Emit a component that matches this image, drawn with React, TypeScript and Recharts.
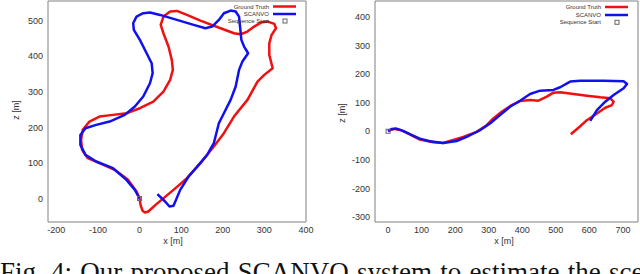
import React from 'react';
import { ComposedChart, Line, Scatter, XAxis, YAxis } from 'recharts';

type Pt = [number, number];

// ---- Left panel (trajectory 1) ----
const leftGroundTruth: Pt[] = [
  [0, 0], [2.4, -17.8], [7.3, -34.6], [12.9, -39.3], [21, -36.5], [41.2, -15], [81.6, 24.3],
  [113.9, 57.1], [146.2, 99.3], [178.5, 146.1], [202.7, 183.5], [226.9, 230.3], [259.3, 277.2],
  [283.5, 328.7], [299.7, 347.4], [319.9, 366.1], [311.8, 403.6], [311.8, 436.3], [317.4, 459.7],
  [327.9, 478.5], [323.9, 490.6], [307.8, 497.2], [291.6, 494.4], [275.4, 483.1], [259.3, 469.1],
  [243.1, 461.6], [226.9, 464.4], [194.7, 478.5], [146.2, 500], [113.9, 515.9], [89.7, 527.2],
  [73.5, 525.3], [57.4, 511.2], [50.9, 487.8], [57.4, 464.4], [69.5, 427], [77.5, 389.5],
  [80, 361.4], [73.5, 333.3], [57.4, 300.6], [33.1, 272.5], [0.8, 253.7], [-31.5, 239.7],
  [-63.8, 235], [-96.1, 230.3], [-120.4, 216.3], [-136.5, 192.9], [-140.5, 164.8], [-138.1, 136.7],
  [-124.4, 113.3], [-96.1, 99.3], [-59.8, 80.5], [-27.5, 52.4], [-7.3, 19.7], [0, 0],
];
const leftScanvo: Pt[] = [
  [0, 0], [-11.3, 24.3], [-31.5, 52.4], [-63.8, 85.2], [-104.2, 103.9], [-130, 122.7], [-142.2, 150.7],
  [-142.2, 178.8], [-130, 197.6], [-104.2, 206.9], [-71.9, 216.3], [-35.5, 235], [-11.3, 258.4],
  [8.9, 286.5], [25, 324], [31.5, 352], [29.1, 380.1], [17, 408.2], [0.8, 445.7], [-13.7, 473.8],
  [-15.3, 492.5], [-7.3, 511.2], [8.9, 520.6], [25, 522.5], [49.3, 515.9], [89.7, 501.9], [130, 487.8],
  [158.3, 478.5], [174.5, 483.1], [190.6, 501.9], [202.7, 520.6], [218.9, 528.1], [231, 525.3],
  [239.1, 511.2], [241.5, 483.1], [244.7, 445.7], [251.2, 427], [260.9, 408.2], [247.2, 384.8],
  [239.1, 361.4], [231, 314.6], [218.9, 277.2], [202.7, 239.7], [190.6, 211.6], [178.5, 155.4],
  [162.4, 122.7], [142.2, 94.6], [117.9, 61.8], [97.7, 24.3], [81.6, -20.6], [71.9, -22.5],
  [61.4, -8.4], [42.8, 12.2],
];

// ---- Right panel (trajectory 2) ----
const rightGroundTruth: Pt[] = [
  [0, 1.2], [19.9, 8.2], [39.8, 3.5], [64.7, -10.6], [94.6, -29.3], [134.5, -38.7], [164.3, -41.1],
  [189.2, -31.7], [224.1, -19.9], [263.9, -2.3], [293.8, 21.1], [313.7, 44.6], [338.6, 68],
  [368.5, 91.5], [393.4, 105.6], [423.3, 109.1], [448.2, 106.7], [473.1, 120.8], [493, 134.9],
  [512.9, 136.1], [552.8, 130.2], [592.6, 124.3], [632.5, 118.5], [662.4, 115], [672.3, 103.2],
  [667.3, 91.5], [647.4, 82.1], [622.5, 62.2], [592.6, 38.7], [572.7, 17.6], [544.8, -10.6],
];
const rightScanvo: Pt[] = [
  [0, 0], [10, 8.2], [24.9, 9.4], [44.8, 1.2], [69.7, -12.9], [94.6, -25.8], [124.5, -35.2],
  [164.3, -41.1], [204.2, -34], [234.1, -19.9], [273.9, 3.5], [303.8, 27], [333.7, 56.3],
  [363.5, 85.6], [393.4, 106.7], [423.3, 130.2], [453.2, 141.9], [493, 144.3], [512.9, 153.7],
  [542.8, 173.6], [572.7, 176], [642.4, 176], [702.2, 174.8], [712.2, 165.4], [702.2, 150.1],
  [672.3, 126.7], [647.4, 103.2], [622.5, 73.9], [602.6, 36.4],
];

const sequenceStart: Pt[] = [[0, 0]];

const leftXTicks = [-200, -100, 0, 100, 200, 300, 400];
const leftZTicks = [0, 100, 200, 300, 400, 500];
const rightXTicks = [0, 100, 200, 300, 400, 500, 600, 700];
const rightZTicks = [-300, -200, -100, 0, 100, 200, 300, 400];
const leftXDomain: [number, number] = [-220, 400];
const leftZDomain: [number, number] = [-66, 555];
const rightXDomain: [number, number] = [-39, 745];
const rightZDomain: [number, number] = [-317, 455];

const seriesNames = ['Ground Truth', 'SCANVO', 'Sequence Start'];
const axisTitles = ['x [m]', 'z [m]'];
const captionText = 'Fig. 4: Our proposed SCANVO system to estimate the sce';

const RED = '#f01010';
const BLUE = '#1010f0';
const FRAME = '#808080';
const SANS = '"Liberation Sans", Arial, Helvetica, sans-serif';
const SERIF = '"Liberation Serif", "Times New Roman", Times, serif';

const rows = (pts: Pt[]) => pts.map(([x, z]) => ({ x, z }));

const squareShape = (p: any) => (
  <rect x={p.cx - 2} y={p.cy - 2} width={4} height={4} fill="none" stroke="#666" strokeWidth={1} />
);

type PanelProps = {
  gt: Pt[];
  sv: Pt[];
  xDomain: [number, number];
  zDomain: [number, number];
  xTicks: number[];
  zTicks: number[];
  yAxisWidth: number;
  marginRight: number;
};

function Panel({ gt, sv, xDomain, zDomain, xTicks, zTicks, yAxisWidth, marginRight }: PanelProps) {
  const tickStyle = { fontSize: 9, fill: '#333', fontFamily: SANS };
  const frameAxis = {
    type: 'number' as const,
    mirror: true,
    allowDataOverflow: true,
    tick: false,
    tickSize: 3,
    interval: 0 as const,
    tickLine: { stroke: FRAME, strokeWidth: 1 },
    axisLine: { stroke: FRAME, strokeWidth: 1 },
  };
  return (
    <ComposedChart width={320} height={250} margin={{ top: 1, right: marginRight, bottom: 0, left: 0 }}>
      <XAxis
        xAxisId="m"
        dataKey="x"
        type="number"
        domain={xDomain}
        ticks={xTicks}
        allowDataOverflow
        interval={0}
        tickLine={false}
        axisLine={false}
        tickSize={0}
        tickMargin={5}
        height={28}
        tick={tickStyle}
      />
      <YAxis
        yAxisId="m"
        dataKey="z"
        type="number"
        domain={zDomain}
        ticks={zTicks}
        allowDataOverflow
        interval={0}
        tickLine={false}
        axisLine={false}
        tickSize={0}
        tickMargin={5}
        width={yAxisWidth}
        tick={tickStyle}
      />
      <XAxis xAxisId="b" orientation="bottom" domain={xDomain} ticks={xTicks} {...frameAxis} />
      <XAxis xAxisId="t" orientation="top" domain={xDomain} ticks={xTicks} {...frameAxis} />
      <YAxis yAxisId="l" orientation="left" domain={zDomain} ticks={zTicks} {...frameAxis} />
      <YAxis yAxisId="r" orientation="right" domain={zDomain} ticks={zTicks} {...frameAxis} />
      <Line
        xAxisId="m"
        yAxisId="m"
        data={rows(gt)}
        dataKey="z"
        type="linear"
        stroke={RED}
        strokeWidth={2.5}
        dot={false}
        activeDot={false}
        strokeLinejoin="round"
        isAnimationActive={false}
      />
      <Line
        xAxisId="m"
        yAxisId="m"
        data={rows(sv)}
        dataKey="z"
        type="linear"
        stroke={BLUE}
        strokeWidth={2.5}
        dot={false}
        activeDot={false}
        strokeLinejoin="round"
        isAnimationActive={false}
      />
      <Scatter
        xAxisId="m"
        yAxisId="m"
        data={rows(sequenceStart)}
        dataKey="z"
        shape={squareShape}
        isAnimationActive={false}
      />
    </ComposedChart>
  );
}

function LegendBox({ right, rowsY }: { right: number; rowsY: number[] }) {
  return (
    <g fontFamily={SANS} fontSize={6} fill="#333">
      <text x={right} y={rowsY[0] + 2} textAnchor="end">{seriesNames[0]}</text>
      <line x1={right + 4} x2={right + 27} y1={rowsY[0]} y2={rowsY[0]} stroke={RED} strokeWidth={2.5} />
      <text x={right} y={rowsY[1] + 2} textAnchor="end">{seriesNames[1]}</text>
      <line x1={right + 4} x2={right + 27} y1={rowsY[1]} y2={rowsY[1]} stroke={BLUE} strokeWidth={2.5} />
      <text x={right} y={rowsY[2] + 2} textAnchor="end">{seriesNames[2]}</text>
      <rect x={right + 14} y={rowsY[2] - 2} width={4} height={4} fill="none" stroke="#666" strokeWidth={1} />
    </g>
  );
}

export default function App() {
  return (
    <div
      style={{
        position: 'absolute',
        left: 0,
        top: 0,
        width: 640,
        height: 274,
        overflow: 'hidden',
        background: '#fff',
      }}
    >
      <div style={{ position: 'absolute', left: 0, top: 0 }}>
        <Panel
          gt={leftGroundTruth}
          sv={leftScanvo}
          xDomain={leftXDomain}
          zDomain={leftZDomain}
          xTicks={leftXTicks}
          zTicks={leftZTicks}
          yAxisWidth={48}
          marginRight={14}
        />
      </div>
      <div style={{ position: 'absolute', left: 320, top: 0 }}>
        <Panel
          gt={rightGroundTruth}
          sv={rightScanvo}
          xDomain={rightXDomain}
          zDomain={rightZDomain}
          xTicks={rightXTicks}
          zTicks={rightZTicks}
          yAxisWidth={55}
          marginRight={2}
        />
      </div>
      <svg
        width={640}
        height={274}
        style={{ position: 'absolute', left: 0, top: 0, pointerEvents: 'none' }}
      >
        <LegendBox right={269} rowsY={[6.5, 14, 21]} />
        <LegendBox right={601} rowsY={[7, 15, 22.3]} />
        <g fontFamily={SANS} fontSize={9} fill="#333" textAnchor="middle">
          <text x={173} y={244}>{axisTitles[0]}</text>
          <text x={504} y={244}>{axisTitles[0]}</text>
          <text x={19} y={110} transform="rotate(-90 19 110)">{axisTitles[1]}</text>
          <text x={345} y={113} transform="rotate(-90 345 113)">{axisTitles[1]}</text>
        </g>
        <text x={0} y={281} fontFamily={SERIF} fontSize={27} fill="#111" style={{ wordSpacing: '1.5px' }}>
          {captionText}
        </text>
      </svg>
    </div>
  );
}
